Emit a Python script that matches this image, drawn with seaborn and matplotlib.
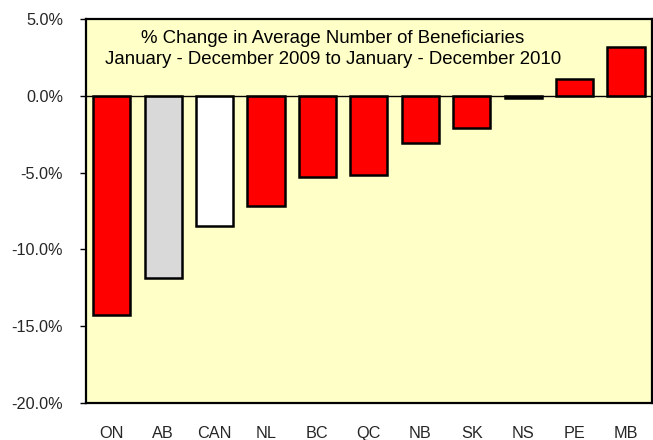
import matplotlib
matplotlib.use("Agg")
import matplotlib.pyplot as plt
import matplotlib.transforms as mtransforms
import seaborn as sns
import pandas as pd
from matplotlib.ticker import FuncFormatter

categories = ["ON", "AB", "CAN", "NL", "BC", "QC", "NB", "SK", "NS", "PE", "MB"]
values = [-14.3, -11.9, -8.45, -7.2, -5.3, -5.17, -3.06, -2.08, -0.1, 1.12, 3.19]
bar_colors = ["#FF0000", "#D9D9D9", "#FFFFFF", "#FF0000", "#FF0000", "#FF0000",
              "#FF0000", "#FF0000", "#FF0000", "#FF0000", "#FF0000"]
title_lines = ["% Change in Average Number of Beneficiaries",
               "January - December 2009 to January - December 2010"]

sns.set_style("white")
plt.rcParams["font.family"] = ["Liberation Sans", "DejaVu Sans"]

df = pd.DataFrame({"region": categories, "change": values})

fig = plt.figure(figsize=(6.53, 4.40), dpi=100)
ax = fig.add_axes([86 / 653, 37.3 / 440, (651.7 - 86) / 653, (402.7 - 19.3) / 440])
ax.set_facecolor("#FFFFC8")

sns.barplot(data=df, x="region", y="change", hue="region", order=categories,
            hue_order=categories, palette=bar_colors, width=0.72,
            edgecolor="black", linewidth=1.8, legend=False, ax=ax, saturation=1)

ax.axhline(0, color="black", linewidth=1.0, zorder=1)
ax.set_ylim(-20, 5)
ax.set_xlim(-0.5, len(categories) - 0.5)
ax.set_yticks([-20, -15, -10, -5, 0, 5])
ax.yaxis.set_major_formatter(FuncFormatter(lambda v, p: f"{v:.1f}%"))
ax.set_xlabel("")
ax.set_ylabel("")

for s in ax.spines.values():
    s.set_color("black")
    s.set_linewidth(1.6)

ax.tick_params(axis="y", direction="out", length=4.5, width=1, color="black",
               pad=12, labelsize=11.7, left=True)
ax.tick_params(axis="x", length=0, pad=17, labelsize=11.7)

trans = mtransforms.blended_transform_factory(ax.transAxes, ax.transData)
ax.text(0.4366, 3.06, "\n".join(title_lines), transform=trans,
        ha="center", va="center", fontsize=13.4, linespacing=1.28, color="black")

fig.savefig("out.png", dpi=100)
